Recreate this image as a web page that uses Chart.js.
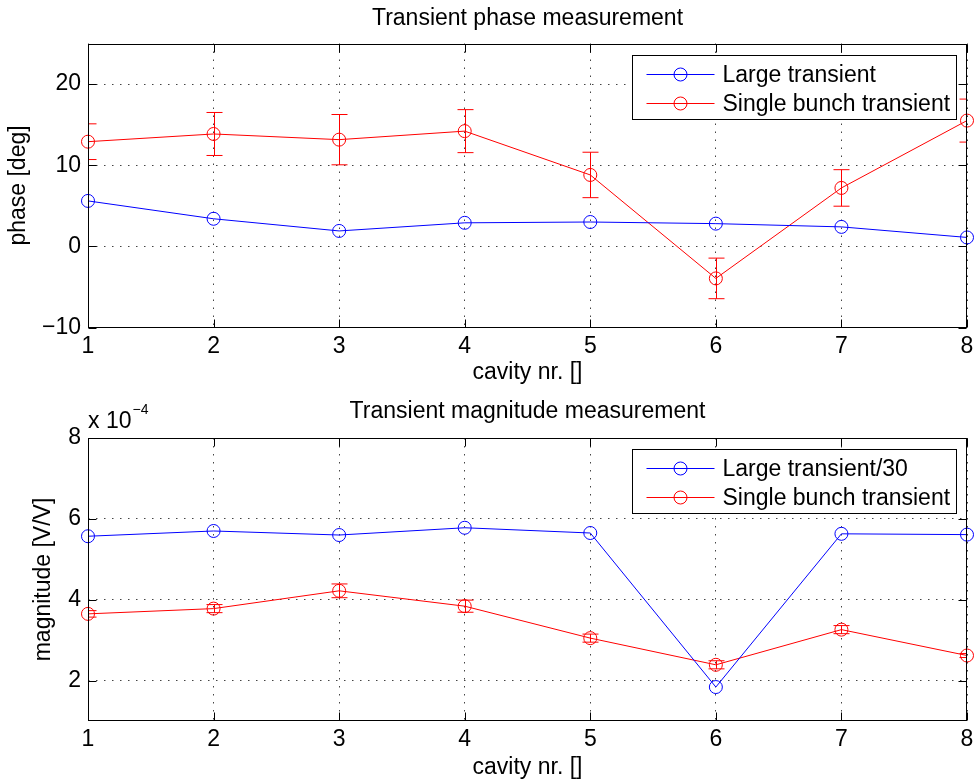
<!DOCTYPE html>
<html>
<head>
<meta charset="utf-8">
<script src="https://cdn.jsdelivr.net/npm/chart.js@4.4.0/dist/chart.umd.min.js"></script>
<style>
  body { margin: 0; background: #fff; }
  canvas { display: block; }
</style>
</head>
<body>
<canvas id="phaseChart" width="975" height="392"></canvas>
<canvas id="magChart" width="975" height="392"></canvas>
<script>
// cavity numbers along x
const cavities = ['1', '2', '3', '4', '5', '6', '7', '8'];

// phase [deg]
const phaseLarge = [5.6, 3.4, 1.9, 2.9, 3.0, 2.8, 2.4, 1.1];
const phaseSingle = [12.9, 13.85, 13.15, 14.2, 8.8, -3.95, 7.2, 15.5];
const phaseSingleErr = [2.2, 2.65, 3.1, 2.65, 2.8, 2.5, 2.25, 2.65];
const phaseTicks = [-10, 0, 10, 20];

// magnitude [V/V]
const magLarge = [5.57e-4, 5.70e-4, 5.60e-4, 5.78e-4, 5.65e-4, 1.84e-4, 5.63e-4, 5.61e-4];
const magSingle = [3.65e-4, 3.78e-4, 4.22e-4, 3.84e-4, 3.05e-4, 2.39e-4, 3.26e-4, 2.62e-4];
const magSingleErr = [0.08e-4, 0.1e-4, 0.17e-4, 0.15e-4, 0.1e-4, 0.1e-4, 0.1e-4, 0.05e-4];
const magTicks = [2e-4, 4e-4, 6e-4, 8e-4];

const FONT = "'Liberation Sans', Arial, Helvetica, sans-serif";
const FS = 23;
Chart.defaults.font.family = FONT;
Chart.defaults.font.size = FS;
Chart.defaults.color = '#000';

// box, inward ticks, error bars, legend and axis exponent
const axesDecor = {
  id: 'axesDecor',
  afterDatasetsDraw(chart, args, opts) {
    const { ctx, chartArea: a, scales: { x, y } } = chart;
    const L = Math.round(a.left) + 0.5, R = Math.round(a.right) - 0.5;
    const T = Math.round(a.top) + 0.5, B = Math.round(a.bottom) - 0.5;

    ctx.save();
    ctx.beginPath();
    ctx.rect(a.left, a.top, a.right - a.left, a.bottom - a.top);
    ctx.clip();
    chart.data.datasets.forEach((ds, i) => {
      if (!ds.errorBars) return;
      const meta = chart.getDatasetMeta(i);
      ctx.strokeStyle = ds.borderColor;
      ctx.lineWidth = 1;
      meta.data.forEach((pt, j) => {
        const v = ds.data[j], e = ds.errorBars[j];
        const px = Math.round(pt.x) + 0.5;
        const yt = y.getPixelForValue(v + e), yb = y.getPixelForValue(v - e);
        ctx.beginPath();
        ctx.moveTo(px, yt); ctx.lineTo(px, yb);
        ctx.moveTo(px - 8, yt); ctx.lineTo(px + 8, yt);
        ctx.moveTo(px - 8, yb); ctx.lineTo(px + 8, yb);
        ctx.stroke();
      });
    });
    ctx.restore();

    ctx.save();
    ctx.strokeStyle = '#000';
    ctx.lineWidth = 1;
    ctx.strokeRect(L, T, R - L, B - T);
    ctx.beginPath();
    x.ticks.forEach((t, i) => {
      const px = Math.round(x.getPixelForTick(i)) + 0.5;
      ctx.moveTo(px, B); ctx.lineTo(px, B - 8);
      ctx.moveTo(px, T); ctx.lineTo(px, T + 8);
    });
    y.ticks.forEach(t => {
      const py = Math.round(y.getPixelForValue(t.value)) + 0.5;
      ctx.moveTo(L, py); ctx.lineTo(L + 8, py);
      ctx.moveTo(R, py); ctx.lineTo(R - 8, py);
    });
    ctx.stroke();

    // legend
    const bw = 324, bh = 64;
    const bx = Math.round(a.right - 11 - bw) + 0.5, by = Math.round(a.top + 11) + 0.5;
    ctx.fillStyle = '#fff';
    ctx.fillRect(bx, by, bw, bh);
    ctx.strokeStyle = '#000';
    ctx.strokeRect(bx, by, bw, bh);
    ctx.font = `${FS}px ${FONT}`;
    ctx.textBaseline = 'middle';
    ctx.textAlign = 'left';
    chart.data.datasets.forEach((ds, i) => {
      const ry = Math.round(by + 18 + i * 29) + 0.5;
      ctx.strokeStyle = ds.borderColor;
      ctx.beginPath();
      ctx.moveTo(bx + 14, ry); ctx.lineTo(bx + 82, ry);
      ctx.stroke();
      ctx.beginPath();
      ctx.arc(bx + 48, ry, 6.5, 0, Math.PI * 2);
      ctx.stroke();
      ctx.fillStyle = '#000';
      ctx.fillText(ds.label, bx + 90, ry + 1);
    });

    if (opts.exponent) {
      ctx.textBaseline = 'alphabetic';
      ctx.fillStyle = '#000';
      ctx.font = `${FS}px ${FONT}`;
      ctx.fillText('x 10', a.left, a.top - 10);
      const w = ctx.measureText('x 10').width;
      ctx.font = `14px ${FONT}`;
      ctx.fillText(opts.exponent, a.left + w + 1, a.top - 24);
    }
    ctx.restore();
  }
};

function lineSet(label, data, color, err) {
  return {
    label, data, errorBars: err,
    borderColor: color, borderWidth: 1,
    pointStyle: 'circle', pointRadius: 6.5, pointHoverRadius: 6.5,
    pointBorderWidth: 1, pointBackgroundColor: 'rgba(0,0,0,0)',
    tension: 0, clip: false
  };
}

function makeChart(id, cfg) {
  return new Chart(document.getElementById(id), {
    type: 'line',
    data: { labels: cavities, datasets: cfg.datasets },
    options: {
      responsive: false,
      animation: false,
      layout: { padding: { left: 0, right: 8, top: 0, bottom: 0 } },
      plugins: {
        legend: { display: false },
        tooltip: { enabled: false },
        title: {
          display: true, text: cfg.title, fullSize: false,
          font: { size: FS, weight: 'normal' }, color: '#000',
          padding: cfg.titlePad
        },
        axesDecor: { exponent: cfg.exponent }
      },
      scales: {
        x: {
          type: 'category', offset: false,
          grid: { color: '#444', lineWidth: 1, drawTicks: false },
          border: { display: false, dash: [1.5, 6.5] },
          ticks: { padding: 5, maxRotation: 0, autoSkip: false },
          title: { display: true, text: 'cavity nr. []', padding: { top: 0, bottom: cfg.xTitlePad } },
          afterFit: s => { s.height = cfg.xHeight; s.paddingLeft = 0; s.paddingRight = 0; }
        },
        y: {
          min: cfg.yMin, max: cfg.yMax,
          grid: { color: '#444', lineWidth: 1, drawTicks: false },
          border: { display: false, dash: [1.5, 6.5] },
          ticks: { padding: 7, callback: cfg.tickFmt },
          afterBuildTicks: s => { s.ticks = cfg.yTicks.map(value => ({ value })); },
          title: { display: true, text: cfg.yTitle, padding: { top: cfg.yTitlePad, bottom: 0 } },
          afterFit: s => { s.width = 88; s.paddingTop = 0; s.paddingBottom = 0; }
        }
      }
    },
    plugins: [axesDecor]
  });
}

makeChart('phaseChart', {
  title: 'Transient phase measurement',
  titlePad: { top: 4.5, bottom: 11.4 },
  datasets: [
    lineSet('Large transient', phaseLarge, '#0000ff'),
    lineSet('Single bunch transient', phaseSingle, '#ff0000', phaseSingleErr)
  ],
  yMin: -10, yMax: 25, yTicks: phaseTicks,
  tickFmt: v => v < 0 ? '\u2212' + (-v) : String(v),
  yTitle: 'phase [deg]', yTitlePad: 5.2,
  xHeight: 64.5, xTitlePad: 5.2
});

makeChart('magChart', {
  title: 'Transient magnitude measurement',
  titlePad: { top: 6.2, bottom: 12.2 },
  datasets: [
    lineSet('Large transient/30', magLarge, '#0000ff'),
    lineSet('Single bunch transient', magSingle, '#ff0000', magSingleErr)
  ],
  yMin: 1e-4, yMax: 8e-4, yTicks: magTicks,
  tickFmt: v => String(Math.round(v * 1e4)),
  yTitle: 'magnitude [V/V]', yTitlePad: 30.2,
  xHeight: 63, xTitlePad: 2.8,
  exponent: '\u22124'
});
</script>
</body>
</html>
